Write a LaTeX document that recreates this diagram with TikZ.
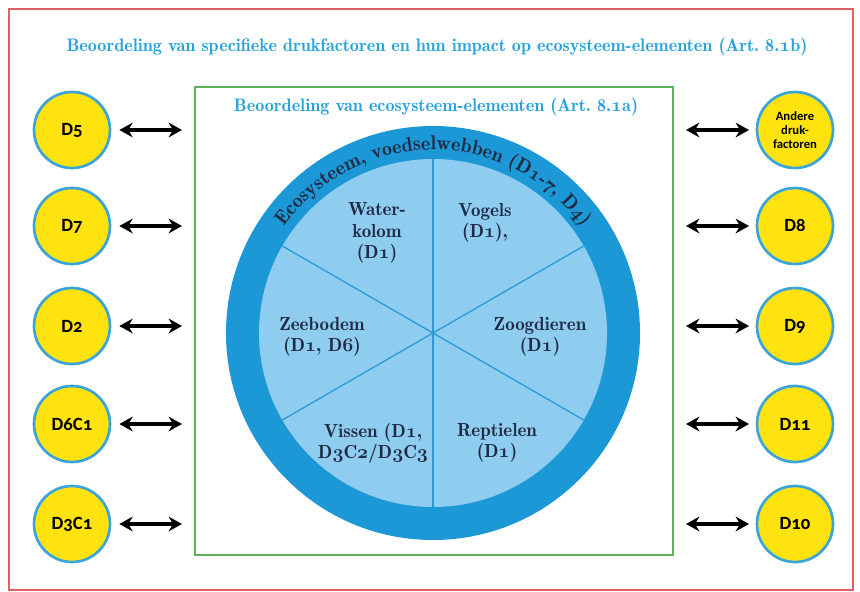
\documentclass[tikz,border=0pt]{standalone}
\usepackage{fontspec}
\newfontfamily\lblfont{Carlito}[Numbers=OldStyle]
\newfontfamily\demi{lmromandemi10-regular}[Extension=.otf]
\usetikzlibrary{arrows.meta,decorations.text}
\newcommand\osf[1]{{\fontencoding{OML}\fontfamily{cmm}\fontseries{b}\fontshape{it}\selectfont #1}}
\definecolor{cred}{HTML}{E06060}
\definecolor{cgreen}{HTML}{5DB15A}
\definecolor{cyellow}{HTML}{FFE30F}
\definecolor{cborder}{HTML}{3BA4D8}
\definecolor{cring}{HTML}{1C98D6}
\definecolor{cinner}{HTML}{8FCDF0}
\definecolor{cspoke}{HTML}{2B9AD6}
\definecolor{ctitle}{HTML}{2AA3DA}
\definecolor{cnavy}{HTML}{1F2B45}
\begin{document}
\begin{tikzpicture}[x=0.75pt,y=0.75pt,
  dcirc/.style={circle, draw=cborder, fill=cyellow, line width=2pt, minimum size=57pt, inner sep=0pt,
    font=\lblfont\bfseries\fontsize{14}{14}\selectfont, text=black},
  smalllbl/.style={font=\lblfont\bfseries\fontsize{9.5}{10.5}\selectfont, align=center},
  biarrow/.style={{Stealth[length=10pt,width=11pt]}-{Stealth[length=10pt,width=11pt]}, line width=2.6pt, black},
  sect/.style={align=center, text=cnavy, font=\demi\fontsize{14.2}{16}\selectfont},
  titletxt/.style={text=ctitle, font=\demi\fontsize{13.6}{14}\selectfont},
  spoke/.style={cspoke, line width=1pt}
]
\useasboundingbox (0,0) rectangle (860,-592);
\fill[white] (0,0) rectangle (860,-592);
\draw[cred, line width=1.5pt] (9,-9) rectangle (853,-590);
\node[draw=cgreen, line width=1.5pt, inner sep=0pt, minimum width=358.5pt, minimum height=351pt] (box) at (434,-321) {};

% titles
\node[titletxt] (t1) at (437,-47) {Beoordeling van specifieke drukfactoren en hun impact op ecosysteem-elementen (Art.~8.\osf{1}b)};
\node[titletxt] (t2) at (436,-107) {Beoordeling van ecosysteem-elementen (Art.~8.\osf{1}a)};

% wheel
\node[circle, fill=cring, minimum size=310.5pt, inner sep=0pt] (ring) at (433,-333) {};
\node[circle, fill=cinner, minimum size=261pt, inner sep=0pt] (inner) at (433,-333) {};
\coordinate (ctr) at (433,-333);
\foreach \a in {90,30,-30,-90,-150,150} \draw[spoke] (ctr) -- ++(\a:174);

\path[decorate, decoration={text along path, text align=center, text color=cnavy,
  text={|\demi\fontsize{15}{15}\selectfont|Ecosysteem, voedselwebben (D{\osf{1}}-{\osf{7}}, D{\osf{4}})}}]
  (ctr) ++(165:183) arc[start angle=165, end angle=15, radius=183];

\node[sect] (water) at (377,-233) {Water-\\kolom\\(D\osf{1})};
\node[sect] (vogels) at (485,-223) {Vogels\\(D\osf{1}),};
\node[sect] (zee) at (322,-337) {Zeebodem\\(D\osf{1}, D\osf{6})};
\node[sect] (zoog) at (540,-337) {Zoogdieren\\(D\osf{1})};
\node[sect] (vis) at (373,-443) {Vissen (D\osf{1},\\D\osf{3}C\osf{2}/D\osf{3}C\osf{3}};
\node[sect] (rep) at (497,-443) {Reptielen\\(D\osf{1})};

% left circles
\node[dcirc] (d5) at (72,-130) {D5};
\node[dcirc] (d7) at (72,-226) {D7};
\node[dcirc] (d2) at (72,-326) {D2};
\node[dcirc] (d6c1) at (72,-424) {D6C1};
\node[dcirc] (d3c1) at (72,-524) {D3C1};
% right circles
\node[dcirc, smalllbl] (andere) at (795,-130) {Andere\\druk-\\factoren};
\node[dcirc] (d8) at (795,-226) {D8};
\node[dcirc] (d9) at (795,-326) {D9};
\node[dcirc] (d11) at (795,-424) {D11};
\node[dcirc] (d10) at (795,-524) {D10};

\foreach \n in {d5,d7,d2,d6c1,d3c1}
  \draw[biarrow, shorten <=6pt, shorten >=9pt] (\n.east) -- (\n.east -| box.west);
\foreach \n in {andere,d8,d9,d11,d10}
  \draw[biarrow, shorten <=9pt, shorten >=5pt] (\n.west -| box.east) -- (\n.west);
\end{tikzpicture}
\end{document}
